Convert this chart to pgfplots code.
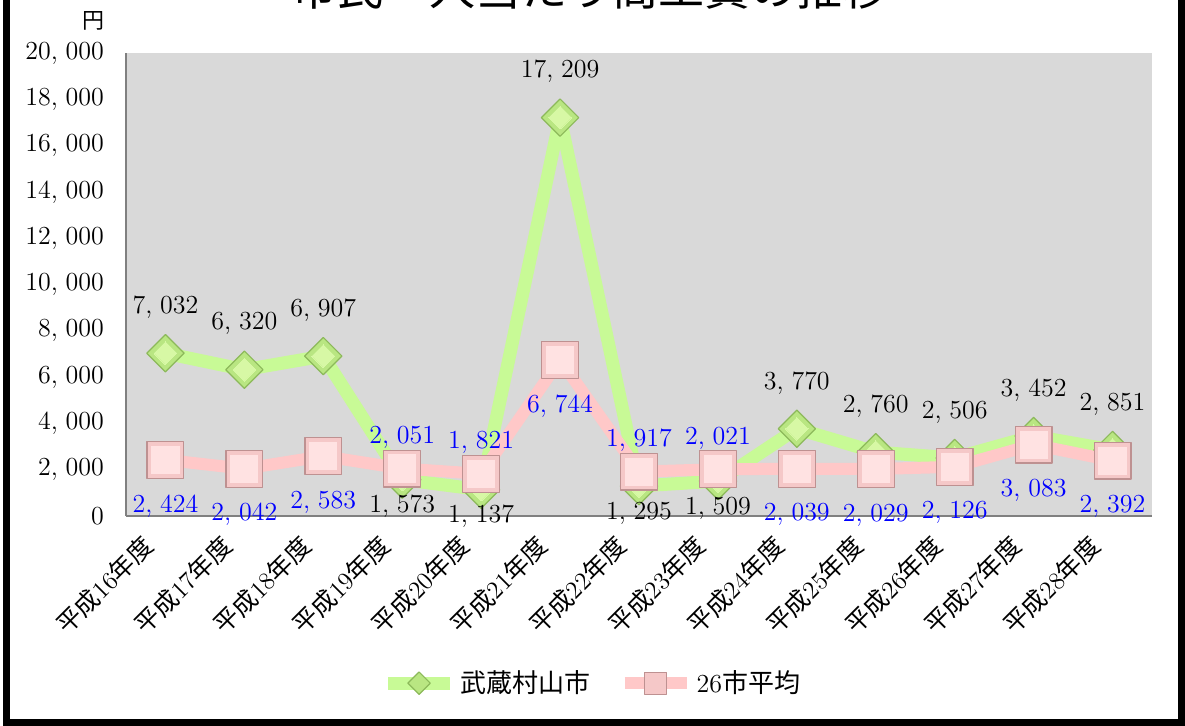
\documentclass[border=0pt]{standalone}
\usepackage{fontspec}
\usepackage{pgfplots}
\pgfplotsset{compat=1.18}
\newfontfamily\cjk{Noto Sans CJK JP}
\definecolor{bg}{RGB}{217,217,217}
\definecolor{gline}{RGB}{200,250,150}
\definecolor{gfill}{RGB}{185,230,130}
\definecolor{gin}{RGB}{215,248,165}
\definecolor{gdraw}{RGB}{140,185,90}
\definecolor{pline}{RGB}{255,200,200}
\definecolor{pfill}{RGB}{245,200,200}
\definecolor{pin}{RGB}{255,226,226}
\definecolor{pdraw}{RGB}{190,145,145}
\definecolor{axgray}{RGB}{128,128,128}
\definecolor{lblue}{RGB}{0,0,255}

% x: category index, g: 武蔵村山市, p: 26市平均, go/po: label offsets (pt)
\pgfplotstableread{
x g p go po
0 7032 2424 23 -23
1 6320 2042 23 -23
2 6907 2583 23 -23
3 1573 2051 -13.5 15.5
4 1137 1821 -13.5 15.5
5 17209 6744 23 -23
6 1295 1917 -13.5 15.5
7 1509 2021 -13.5 15.5
8 3770 2039 23 -23
9 2760 2029 23 -23
10 2506 2126 23 -23
11 3452 3083 23 -23
12 2851 2392 23 -23
}\data

\begin{document}
\begin{tikzpicture}
\useasboundingbox (0,0) rectangle (592.5pt,362.5pt);
\draw[line width=3.5pt, line join=miter] (3.25pt,380pt) -- (3.25pt,1.25pt) -- (590.75pt,1.25pt) -- (590.75pt,380pt);
\node[anchor=base, font=\cjk\fontsize{23}{28}\selectfont] at (295pt,359.5pt) {市民一人当たり商工費の推移};
\node[font=\cjk\fontsize{11}{13}\selectfont] at (47pt,352pt) {円};
\begin{axis}[
  at={(63pt,104.5pt)}, anchor=south west,
  scale only axis, width=513pt, height=231.5pt,
  xmin=-0.5, xmax=12.5, ymin=0, ymax=20000,
  clip=false,
  axis background/.style={fill=bg},
  axis x line*=bottom, axis y line*=left,
  axis line style={axgray, line width=1pt},
  major tick length=0pt,
  xtick={0,...,12},
  xticklabels={{\cjk 平成}16{\cjk 年度},{\cjk 平成}17{\cjk 年度},{\cjk 平成}18{\cjk 年度},{\cjk 平成}19{\cjk 年度},{\cjk 平成}20{\cjk 年度},{\cjk 平成}21{\cjk 年度},{\cjk 平成}22{\cjk 年度},{\cjk 平成}23{\cjk 年度},{\cjk 平成}24{\cjk 年度},{\cjk 平成}25{\cjk 年度},{\cjk 平成}26{\cjk 年度},{\cjk 平成}27{\cjk 年度},{\cjk 平成}28{\cjk 年度}},
  xticklabel style={xshift=-7pt, yshift=-11pt, rotate=45, anchor=east, inner sep=2pt, font=\fontsize{12.5}{14}\selectfont},
  ytick={0,2000,...,20000},
  scaled y ticks=false,
  yticklabel style={xshift=-7.5pt, font=\fontsize{13}{15}\selectfont},
  /pgf/number format/.cd, 1000 sep={,\hspace{0.3em}}, assume math mode=true,
  /pgfplots/.cd,
  legend style={at={(0.455,-0.361)}, anchor=center, draw=none, fill=none,
    legend columns=2, font=\fontsize{13}{15}\selectfont,
    /tikz/every even column/.append style={column sep=12pt}},
  legend image code/.code={\draw[mark repeat=2,mark phase=2,#1, every mark/.append style={scale=0.6}] plot coordinates {(0pt,0pt) (15.5pt,0pt) (31pt,0pt)};},
]
\addplot[gline, line width=6.5pt, line join=round,
  mark=square*, mark size=6.6pt,
  mark options={rotate=45, fill=gfill, draw=gdraw, line width=0.6pt},
  nodes near coords, point meta=explicit,
  visualization depends on={\thisrow{go} \as \laboff},
  every node near coord/.append style={anchor=center, yshift=\laboff pt, text=black, font=\fontsize{13}{15}\selectfont},
] table[x=x, y=g, meta=g] {\data};
\addlegendentry{\cjk 武蔵村山市}
\addplot[forget plot, only marks, gin, mark=square*, mark size=4pt,
  mark options={rotate=45, fill=gin, draw=gin, line width=0pt}] table[x=x, y=g] {\data};
\addplot[pline, line width=6pt, line join=round,
  mark=square*, mark size=9.2pt,
  mark options={fill=pfill, draw=pdraw, line width=0.6pt},
  nodes near coords, point meta=explicit,
  visualization depends on={\thisrow{po} \as \laboff},
  every node near coord/.append style={anchor=center, yshift=\laboff pt, text=lblue, font=\fontsize{13}{15}\selectfont},
] table[x=x, y=p, meta=p] {\data};
\addlegendentry{26{\cjk 市平均}}
\addplot[forget plot, only marks, pin, mark=square*, mark size=6.8pt,
  mark options={fill=pin, draw=pin, line width=0pt}] table[x=x, y=p] {\data};
\end{axis}
\end{tikzpicture}
\end{document}
